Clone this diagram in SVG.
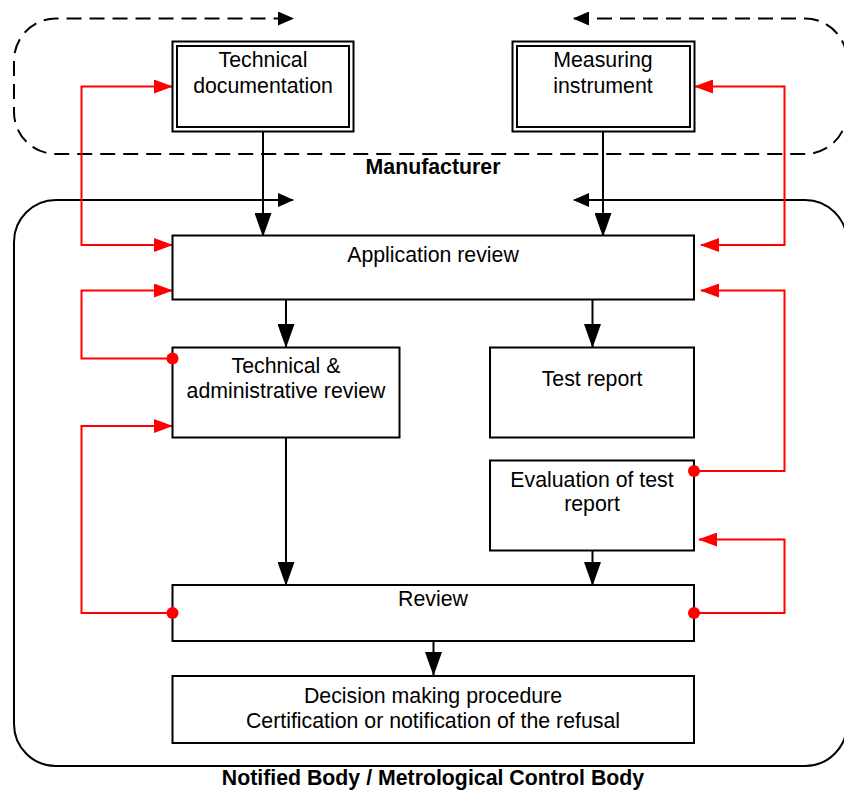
<svg xmlns="http://www.w3.org/2000/svg" width="844" height="792" viewBox="0 0 844 792">
<style>
  .box { fill: #fff; stroke: #000; stroke-width: 2; }
  .lbl { font-family: "Liberation Sans", Arial, sans-serif; font-size: 21.3px; fill: #000; text-anchor: middle; }
  .bold { font-weight: bold; }
  .blk { fill: none; stroke: #000; stroke-width: 2; }
  .red { fill: none; stroke: #ff0000; stroke-width: 2; }
  .dot { fill: #ff0000; }
</style>
<defs>
  <marker id="arrB" markerUnits="userSpaceOnUse" markerWidth="24" markerHeight="17" refX="23" refY="8.5" orient="auto">
    <path d="M0,0 L24,8.5 L0,17 z" fill="#000"/>
  </marker>
  <marker id="arrS" markerUnits="userSpaceOnUse" markerWidth="16" markerHeight="14" refX="15" refY="7" orient="auto-start-reverse">
    <path d="M0,0 L16,7 L0,14 z" fill="#000"/>
  </marker>
  <marker id="arrR" markerUnits="userSpaceOnUse" markerWidth="19" markerHeight="14" refX="18" refY="7" orient="auto">
    <path d="M0,0 L19,7 L0,14 z" fill="#ff0000"/>
  </marker>
</defs>

<rect width="844" height="792" fill="#fff"/>

<g id="manufacturer-region">
  <path class="blk" stroke-dasharray="15 8" d="M574,18.5 H805 A42,42 0 0 1 847,60.5 V112 A42,42 0 0 1 805,154 H56 A42,42 0 0 1 14,112 V60.5 A42,42 0 0 1 56,18.5 H293" marker-start="url(#arrS)" marker-end="url(#arrS)"/>
  <text class="lbl bold" x="433" y="174">Manufacturer</text>
</g>

<g id="notified-body-region">
  <path class="blk" d="M574,200 H805 A42,42 0 0 1 847,242 V724 A42,42 0 0 1 805,766 H56 A42,42 0 0 1 14,724 V242 A42,42 0 0 1 56,200 H293" marker-start="url(#arrS)" marker-end="url(#arrS)"/>
  <text class="lbl bold" x="433" y="785">Notified Body / Metrological Control Body</text>
</g>

<g id="connectors">
  <!-- black flow -->
  <line class="blk" x1="263" y1="132" x2="263" y2="236" marker-end="url(#arrB)"/>
  <line class="blk" x1="603" y1="132" x2="603" y2="236" marker-end="url(#arrB)"/>
  <line class="blk" x1="286" y1="296" x2="286" y2="347" marker-end="url(#arrB)"/>
  <line class="blk" x1="592.5" y1="296" x2="592.5" y2="347" marker-end="url(#arrB)"/>
  <line class="blk" x1="286" y1="438" x2="286" y2="585" marker-end="url(#arrB)"/>
  <line class="blk" x1="592.5" y1="551" x2="592.5" y2="585" marker-end="url(#arrB)"/>
  <line class="blk" x1="433.5" y1="641" x2="433.5" y2="675" marker-end="url(#arrB)"/>

  <!-- red feedback -->
  <path class="red" d="M81.5,166 V86.5 H172" marker-end="url(#arrR)"/>
  <path class="red" d="M81.5,166 V245 H172" marker-end="url(#arrR)"/>
  <path class="red" d="M784.5,166 V86.5 H695" marker-end="url(#arrR)"/>
  <path class="red" d="M784.5,166 V245 H701" marker-end="url(#arrR)"/>
  <path class="red" d="M172,358.5 H81.5 V290.5 H172" marker-end="url(#arrR)"/>
  <path class="red" d="M172,613 H81.5 V426 H172" marker-end="url(#arrR)"/>
  <path class="red" d="M694,471 H784.5 V290.5 H701" marker-end="url(#arrR)"/>
  <path class="red" d="M694,613 H784.5 V539.5 H699" marker-end="url(#arrR)"/>
</g>

<g id="technical-documentation">
  <rect class="box" x="172.5" y="41.5" width="181" height="90"/>
  <rect class="box" x="177" y="46" width="172" height="81"/>
  <text class="lbl" x="263" y="67">Technical</text>
  <text class="lbl" x="263" y="92.5">documentation</text>
</g>

<g id="measuring-instrument">
  <rect class="box" x="512.5" y="41.5" width="182" height="90"/>
  <rect class="box" x="517" y="46" width="173" height="81"/>
  <text class="lbl" x="603" y="67">Measuring</text>
  <text class="lbl" x="603" y="92.5">instrument</text>
</g>

<g id="application-review">
  <rect class="box" x="172.5" y="235.5" width="521.5" height="64"/>
  <text class="lbl" x="433" y="261.5">Application review</text>
</g>

<g id="technical-administrative-review">
  <rect class="box" x="172.5" y="347.5" width="227" height="90"/>
  <text class="lbl" x="286" y="372.5">Technical &amp;</text>
  <text class="lbl" x="286" y="397.5">administrative review</text>
</g>

<g id="test-report">
  <rect class="box" x="490" y="347.5" width="204" height="90"/>
  <text class="lbl" x="592" y="386">Test report</text>
</g>

<g id="evaluation-of-test-report">
  <rect class="box" x="490" y="460.5" width="204" height="90"/>
  <text class="lbl" x="592" y="486.5">Evaluation of test</text>
  <text class="lbl" x="592" y="510.5">report</text>
</g>

<g id="review">
  <rect class="box" x="172.5" y="585" width="521.5" height="56"/>
  <text class="lbl" x="433" y="606">Review</text>
</g>

<g id="decision-making">
  <rect class="box" x="172.5" y="676" width="521.5" height="67"/>
  <text class="lbl" x="433" y="703">Decision making procedure</text>
  <text class="lbl" x="433" y="727.5">Certification or notification of the refusal</text>
</g>

<g id="red-dots">
  <circle class="dot" cx="172.5" cy="358.5" r="6"/>
  <circle class="dot" cx="694" cy="471" r="6"/>
  <circle class="dot" cx="172.5" cy="613" r="6"/>
  <circle class="dot" cx="694" cy="613" r="6"/>
</g>
</svg>
